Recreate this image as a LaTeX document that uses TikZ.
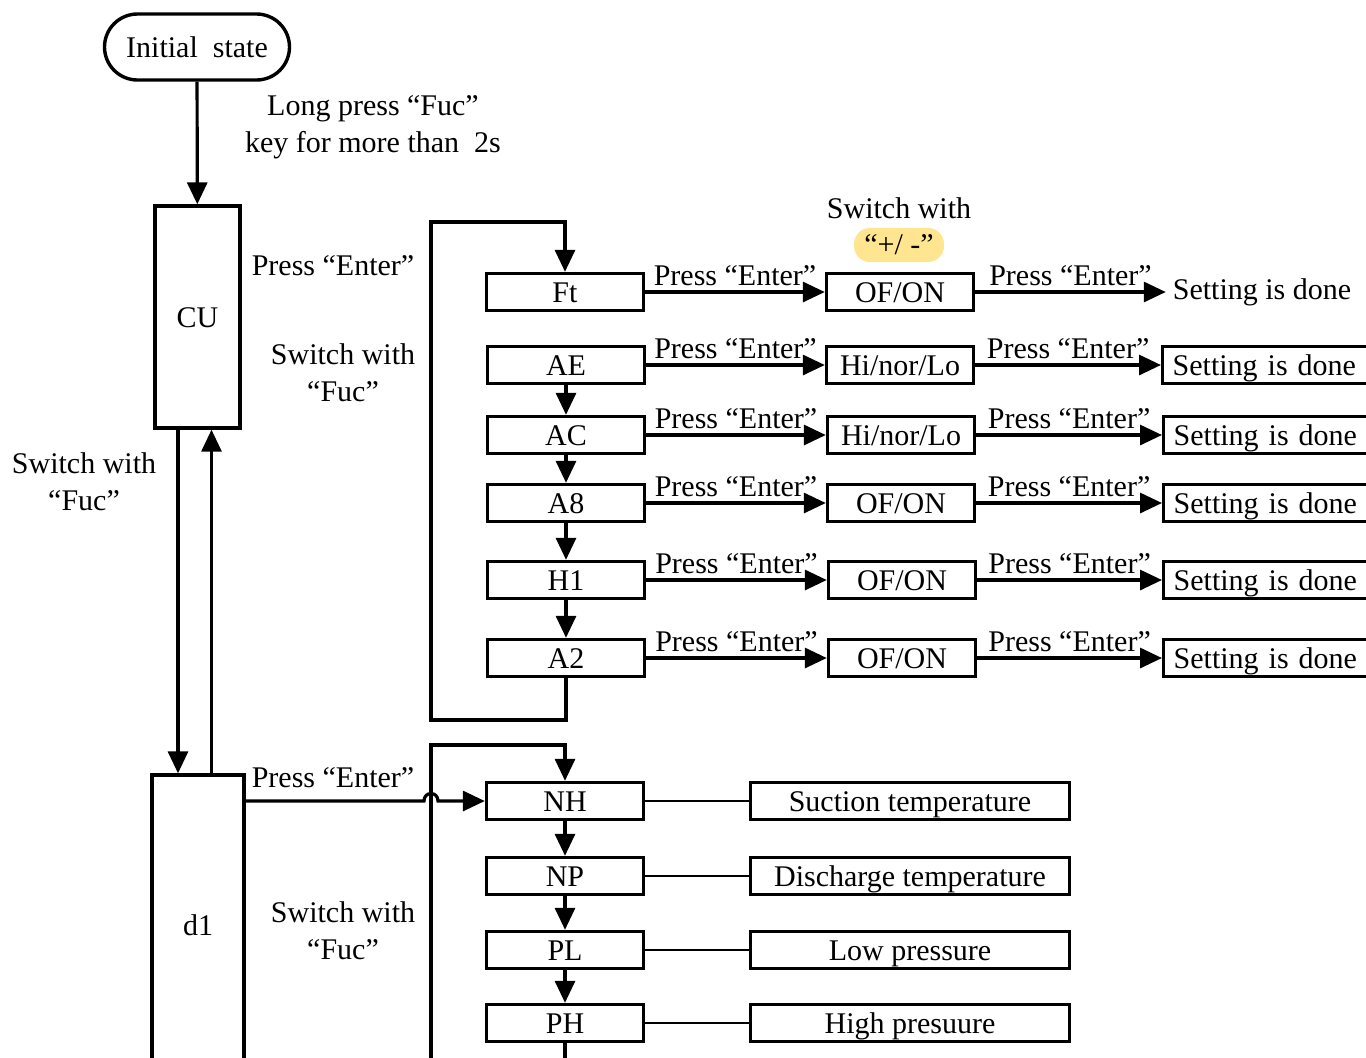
\documentclass[tikz,border=0pt]{standalone}
\usepackage{fontspec}
\setmainfont{Liberation Serif}
\usetikzlibrary{arrows.meta}
\definecolor{hlyellow}{RGB}{255,229,143}
\begin{document}
\begin{tikzpicture}[x=0.5pt,y=-0.5pt,
  every node/.style={font=\fontsize{15}{18.5}\selectfont},
  box/.style={draw,line width=1.7pt,inner sep=0pt,text height=12pt,text depth=1.4pt,minimum width=78.5pt,minimum height=18.5pt},
  valbox/.style={box,minimum width=73.5pt},
  donebox/.style={box,anchor=west,inner xsep=5pt,text width=100pt,align=left},
  infobox/.style={box,minimum width=159.5pt},
  arr/.style={line width=1.6pt,-{Triangle[length=11pt,width=10pt]}},
  ln/.style={line width=1.3pt},
  lbl/.style={above=1.5pt,inner sep=1pt}]
\useasboundingbox (0,0) rectangle (1366,1057);
\clip (0,0) rectangle (1366,1057);

\node[draw,line width=1.7pt,rounded corners=16.5pt,minimum width=92.5pt,minimum height=33pt] (init) at (197,47) {Initial\ \ state};
\node[box,minimum width=42.5pt,minimum height=111pt] (cu) at (197.5,317) {CU};
\node[box,minimum width=46pt,minimum height=150pt] (d1) at (198,925) {d1};

\node[align=center] (lp) at (373,127) {Long press “Fuc”\\key for more than\ \ 2s};
\node (pe1) at (333,266) {Press “Enter”};
\node[align=center] (sw1) at (343,373) {Switch with\\“Fuc”};
\node[align=center] (sw0) at (84,482) {Switch with\\“Fuc”};
\node (pe2) at (333,778) {Press “Enter”};
\node[align=center] (sw2) at (343,931) {Switch with\\“Fuc”};
\node (swp) at (899,208) {Switch with};
\node[fill=hlyellow,rounded corners=8pt,minimum width=45pt,minimum height=17pt,inner sep=0pt] (pm) at (899,245) {“+/ -”};

% settings list
\node[box] (ft) at (565,292) {Ft};
\node[box] (ae) at (566,365) {AE};
\node[box] (ac) at (566,435) {AC};
\node[box] (a8) at (566,503) {A8};
\node[box] (h1) at (566,580) {H1};
\node[box] (a2) at (566,658) {A2};

\node[valbox] (ofa) at (900,292) {OF/ON};
\node[valbox] (hia) at (900,365) {Hi/nor/Lo};
\node[valbox] (hib) at (901,435) {Hi/nor/Lo};
\node[valbox] (ofb) at (901,503) {OF/ON};
\node[valbox] (ofc) at (902,580) {OF/ON};
\node[valbox] (ofd) at (902,658) {OF/ON};

\node (done0) at (1262,292) {Setting is done};
\node[donebox] (done1) at (1161,365) {Setting is done};
\node[donebox] (done2) at (1162,435) {Setting is done};
\node[donebox] (done3) at (1162,503) {Setting is done};
\node[donebox] (done4) at (1162,580) {Setting is done};
\node[donebox] (done5) at (1162,658) {Setting is done};

% query list
\node[box] (nh) at (565,801) {NH};
\node[box] (np) at (565,876) {NP};
\node[box] (pl) at (565,950) {PL};
\node[box] (ph) at (565,1023) {PH};

\node[infobox] (suc) at (910,801) {Suction temperature};
\node[infobox] (dis) at (910,876) {Discharge temperature};
\node[infobox] (low) at (910,950) {Low pressure};
\node[infobox] (hig) at (910,1023) {High presuure};

\coordinate (lpa) at (431,720);
\coordinate (lpb) at (431,222);
\coordinate (lpc) at (431,1070);
\coordinate (lpd) at (431,745);
\coordinate (jmpa) at (424,801);
\coordinate (jmpb) at (438,801);

\draw[arr] (init) -- (cu);
\draw[arr] ([xshift=-9.75pt]cu.south) -- ([xshift=-9.75pt]cu.south |- d1.north);
\draw[arr] ([xshift=7pt]cu.south |- d1.north) -- ([xshift=7pt]cu.south);

\draw[arr] (ft) -- node[lbl] {Press “Enter”} (ofa);
\draw[arr] (ofa) -- node[lbl] {Press “Enter”} (done0);
\draw[arr] (ae) -- node[lbl] {Press “Enter”} (hia);
\draw[arr] (hia) -- node[lbl] {Press “Enter”} (done1);
\draw[arr] (ac) -- node[lbl] {Press “Enter”} (hib);
\draw[arr] (hib) -- node[lbl] {Press “Enter”} (done2);
\draw[arr] (a8) -- node[lbl] {Press “Enter”} (ofb);
\draw[arr] (ofb) -- node[lbl] {Press “Enter”} (done3);
\draw[arr] (h1) -- node[lbl] {Press “Enter”} (ofc);
\draw[arr] (ofc) -- node[lbl] {Press “Enter”} (done4);
\draw[arr] (a2) -- node[lbl] {Press “Enter”} (ofd);
\draw[arr] (ofd) -- node[lbl] {Press “Enter”} (done5);

\draw[arr] (ae) -- (ac);
\draw[arr] (ac) -- (a8);
\draw[arr] (a8) -- (h1);
\draw[arr] (h1) -- (a2);
\draw[arr] (a2.south) |- (lpa) -- (lpb) -| (ft.north);

\draw[arr] (d1.east |- nh.west) -- (jmpa) .. controls (424,791) and (438,791) .. (jmpb) -- (nh.west);
\draw[arr] (nh) -- (np);
\draw[arr] (np) -- (pl);
\draw[arr] (pl) -- (ph);
\draw[arr] (ph.south) |- (lpc) -- (lpd) -| (nh.north);

\draw[ln] (nh) -- (suc);
\draw[ln] (np) -- (dis);
\draw[ln] (pl) -- (low);
\draw[ln] (ph) -- (hig);
\end{tikzpicture}
\end{document}
